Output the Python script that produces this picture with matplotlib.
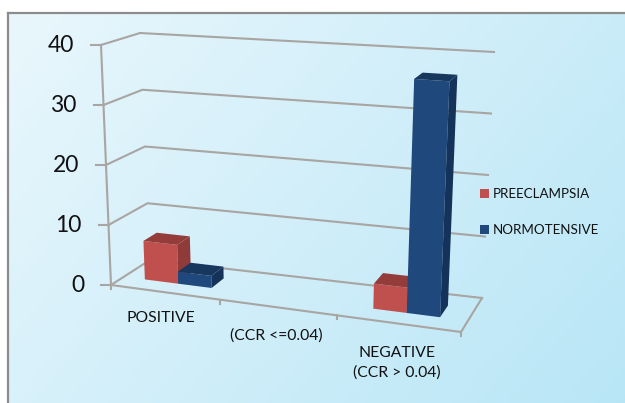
import matplotlib
matplotlib.use('Agg')
import matplotlib.pyplot as plt
import numpy as np
from matplotlib.patches import Polygon

plt.rcParams['font.family'] = ['Lato', 'DejaVu Sans']

categories = ['POSITIVE', '(CCR <=0.04)', 'NEGATIVE\n(CCR > 0.04)']
series_names = ['PREECLAMPSIA', 'NORMOTENSIVE']
preeclampsia = [6.5, 0, 4]
normotensive = [2, 0, 37]
y_ticks = [0, 10, 20, 30, 40]

# pixel corners of the 3d box, used for the projection below
# (front-left, front-right, back-left, back-right)
floor = np.array([[111, 285], [461, 332], [150, 260], [482, 298]], float)
top = np.array([[101, 45], [473, 70], [140, 33], [494, 52]], float)
y_max = 40


def proj(u, d, v):
    # u along categories, d into the chart, v data value
    def bil(c):
        return (1-u)*(1-d)*c[0] + u*(1-d)*c[1] + (1-u)*d*c[2] + u*d*c[3]
    t = v / y_max
    return tuple(bil(floor) * (1 - t) + bil(top) * t)


fig = plt.figure(figsize=(6.25, 4.03), dpi=100)
ax = fig.add_axes([0, 0, 1, 1])
ax.axis('off')

# background gradient
yy, xx = np.mgrid[0:1:100j, 0:1:160j]
g = (xx * 0.62 + yy * 0.33)[..., None]
c1 = np.array([233, 247, 252]) / 255
c2 = np.array([182, 229, 246]) / 255
ax.imshow(c1 + (c2 - c1) * g, extent=[8, 625, 403, 13], aspect='auto', zorder=0)
ax.set_xlim(0, 625)
ax.set_ylim(403, 0)
ax.plot([8, 8], [403, 13], color='#8c8c8c', lw=1.6, zorder=1)
ax.plot([8, 625], [13, 13], color='#8c8c8c', lw=1.6, zorder=1)

grid_c = '#a8a5a2'
for v in y_ticks:
    pts = [proj(0, 0, v), proj(0, 1, v), proj(1, 1, v)]
    ax.plot(*zip(*pts), color=grid_c, lw=1.5, zorder=2)
    fx, fy = proj(0, 0, v)
    ax.plot([fx - 10, fx], [fy, fy], color=grid_c, lw=1.5, zorder=2)
    ax.text(fx - 27, fy, str(v), fontsize=16.5, ha='right', va='center', color='#111111')
ax.plot(*zip(proj(0, 0, 0), proj(0, 0, y_max)), color=grid_c, lw=1.5, zorder=2)
ax.plot(*zip(proj(0, 0, 0), proj(1, 0, 0), proj(1, 1, 0)), color=grid_c, lw=1.5, zorder=2)
for u in [0, 0.31, 0.645, 1]:
    x0, y0 = proj(u, 0, 0)
    ax.plot([x0, x0], [y0, y0 + 4], color=grid_c, lw=1.5, zorder=2)


def bar3d(u0, u1, v, front, side, topc, z):
    d0, d1 = 0.33, 0.68
    ax.add_patch(Polygon([proj(u0, d0, 0), proj(u1, d0, 0), proj(u1, d0, v), proj(u0, d0, v)],
                         fc=front, ec='none', zorder=z))
    ax.add_patch(Polygon([proj(u1, d0, 0), proj(u1, d1, 0), proj(u1, d1, v), proj(u1, d0, v)],
                         fc=side, ec='none', zorder=z))
    ax.add_patch(Polygon([proj(u0, d0, v), proj(u1, d0, v), proj(u1, d1, v), proj(u0, d1, v)],
                         fc=topc, ec='none', zorder=z))


centers = [0.158, 0.5, 0.822]
w = 0.097
red = ('#c0504d', '#8f3b39', '#933c3a')
blue = ('#1f497d', '#14325a', '#17375e')
for i in range(len(categories)):
    c = centers[i]
    if preeclampsia[i] > 0:
        bar3d(c - w, c, preeclampsia[i], *red, 3 + i)
    if normotensive[i] > 0:
        bar3d(c, c + w, normotensive[i], *blue, 3.5 + i)

# labels
label_pos = [(161, 318), (276, 336), (397, 363)]
for name, (lx, ly) in zip(categories, label_pos):
    ax.text(lx, ly, name, fontsize=11.3, ha='center', va='center', linespacing=1.5, color='#111111')

# legend
for name, col, ly in zip(series_names, [red[0], blue[0]], [193.5, 229.5]):
    ax.add_patch(Polygon([(480, ly - 4.5), (489, ly - 4.5), (489, ly + 4.5), (480, ly + 4.5)], fc=col, ec='none', zorder=5))
    ax.text(493, ly, name, fontsize=9.6, ha='left', va='center', color='#111111')

fig.savefig('out.png', dpi=100)
